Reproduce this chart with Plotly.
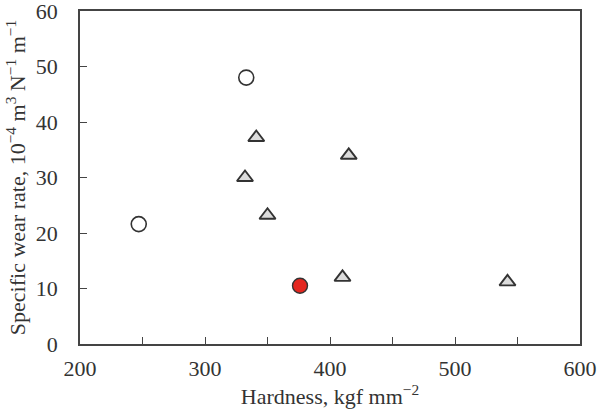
import plotly.graph_objects as go

# Data
open_circle_x = [247, 333]
open_circle_y = [21.6, 48.0]
triangle_x = [341, 415, 332, 350, 410, 542]
triangle_y = [37.2, 34.0, 30.0, 23.2, 12.0, 11.2]
red_x = [376]
red_y = [10.5]

x_tickvals = [200, 250, 300, 350, 400, 450, 500, 550, 600]
x_ticktext = ["200", "", "300", "", "400", "", "500", "", "600"]
y_tickvals = [0, 10, 20, 30, 40, 50, 60]

edge = "#333333"
fig = go.Figure()
fig.add_trace(go.Scatter(x=open_circle_x, y=open_circle_y, mode="markers",
                         marker=dict(symbol="circle", size=15, color="white",
                                     line=dict(color=edge, width=1.6)),
                         showlegend=False))
fig.add_trace(go.Scatter(x=triangle_x, y=triangle_y, mode="markers",
                         marker=dict(symbol="triangle-up", size=14, color="#dcdcdc",
                                     line=dict(color=edge, width=1.9)),
                         showlegend=False))
fig.add_trace(go.Scatter(x=red_x, y=red_y, mode="markers",
                         marker=dict(symbol="circle", size=15, color="#e3261f",
                                     line=dict(color=edge, width=1.4)),
                         showlegend=False))

font = dict(family="Liberation Serif", size=22, color="#333333")
fig.update_layout(
    width=599, height=420,
    margin=dict(l=80, r=19, t=11, b=76),
    paper_bgcolor="white", plot_bgcolor="white",
    font=font,
    xaxis=dict(range=[200, 600], tickvals=x_tickvals, ticktext=x_ticktext,
               ticks="inside", ticklen=7, tickcolor="#444", tickwidth=1.2,
               ticklabelstandoff=4, automargin=False, ticklabeloverflow="allow",
               showline=True, linecolor="#444", linewidth=1.5, mirror=True,
               showgrid=False, zeroline=False,
               title=dict(text="Hardness, kgf mm<sup>−2</sup>", font=font, standoff=2)),
    yaxis=dict(range=[0, 60], tickvals=y_tickvals,
               ticks="inside", ticklen=7, tickcolor="#444", tickwidth=1.2,
               ticklabelstandoff=16, automargin=False, ticklabeloverflow="allow",
               showline=True, linecolor="#444", linewidth=1.5, mirror=True,
               showgrid=False, zeroline=False,
               title=dict(text="Specific wear rate, 10<sup>−4</sup> m<sup>3</sup> N<sup>−1</sup> m<sup>−1</sup>",
                          font=font, standoff=4)),
)
fig.write_html("out.html")
